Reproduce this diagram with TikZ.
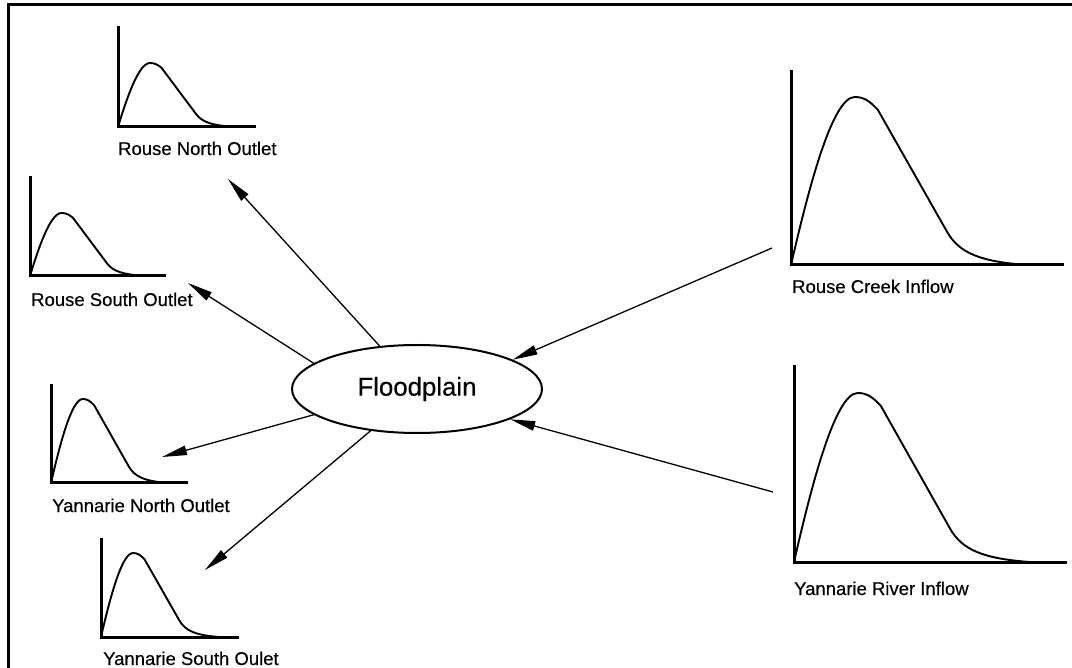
\documentclass[tikz,border=0pt]{standalone}
\usepackage{fontspec}
\setmainfont{Liberation Sans}
\newfontfamily\lblfont[FakeBold=0.35]{Liberation Sans}
\usetikzlibrary{arrows.meta,shapes.geometric}
\tikzset{
  frame/.style={line width=3.2pt},
  axisline/.style={line width=3pt, line cap=rect},
  hcurve/.style={line width=1.9pt, line join=round},
  flow/.style={line width=1.3pt, -{Triangle[length=25pt,width=9.5pt]}},
  lbl/.style={inner sep=0pt, anchor=base west, font=\lblfont\fontsize{18.5}{22}\selectfont},
  pool/.style={ellipse, draw, line width=2pt, minimum width=250pt, minimum height=88pt, inner sep=0pt, font=\lblfont\fontsize{25.8}{30}\selectfont}
}
% #1 x0, #2 y0 (axis origin, pixels), #3 axis width, #4 axis height, #5 peak height
\newcommand\hydrograph[5]{%
  \draw[axisline] (#1,#2-#4) -- (#1,#2) -- (#1+#3,#2);
  \begin{scope}[xshift=#1pt, yshift=-#2pt, x=#3pt, y=#5pt]
    \draw[hcurve] (0,0) .. controls (0.06,0.42) and (0.15,1) .. (0.235,1)
      .. controls (0.27,1) and (0.29,0.975) .. (0.32,0.925)
      -- (0.575,0.2) .. controls (0.62,0.07) and (0.70,0.02) .. (0.87,0);
  \end{scope}}
\begin{document}
\begin{tikzpicture}[x=1pt,y=-1pt]
\useasboundingbox (0,0) rectangle (1072,668);
\fill[white] (0,0) rectangle (1072,668);
% frame (top and left edges only are visible)
\draw[frame] (8.5,668) -- (8.5,4.8) -- (1072,4.8);

% hydrographs
\hydrograph{118}{127}{136}{99}{64}
\hydrograph{30}{276}{134}{98}{63}
\hydrograph{51}{483}{135}{97}{84}
\hydrograph{101}{637}{136}{98}{84}
\hydrograph{791}{265}{271}{193}{168}
\hydrograph{794}{562}{271}{195}{169}

% labels
\node[lbl] (rn) at (118,155) {Rouse North Outlet};
\node[lbl] (rs) at (31,306) {Rouse South Outlet};
\node[lbl] (yn) at (52,512) {Yannarie North Outlet};
\node[lbl] (ys) at (103,665) {Yannarie South Oulet};
\node[lbl] (rc) at (792,293) {Rouse Creek Inflow};
\node[lbl] (yr) at (794,595) {Yannarie River Inflow};

% floodplain
\node[pool] (fp) at (417,389) {Floodplain};

% connector ends
\coordinate (rnIn) at (228,179);
\coordinate (rsIn) at (188,283);
\coordinate (ynIn) at (162,457);
\coordinate (ysIn) at (205,570);
\coordinate (rcOut) at (772,248);
\coordinate (yrOut) at (773,492);

\draw[flow] (fp.131.6) -- (rnIn);
\draw[flow] (fp.166) -- (rsIn);
\draw[flow] (fp.194) -- (ynIn);
\draw[flow] (fp.222.5) -- (ysIn);
\draw[flow] (rcOut) -- (fp.17.6);
\draw[flow] (yrOut) -- (fp.342);
\end{tikzpicture}
\end{document}
